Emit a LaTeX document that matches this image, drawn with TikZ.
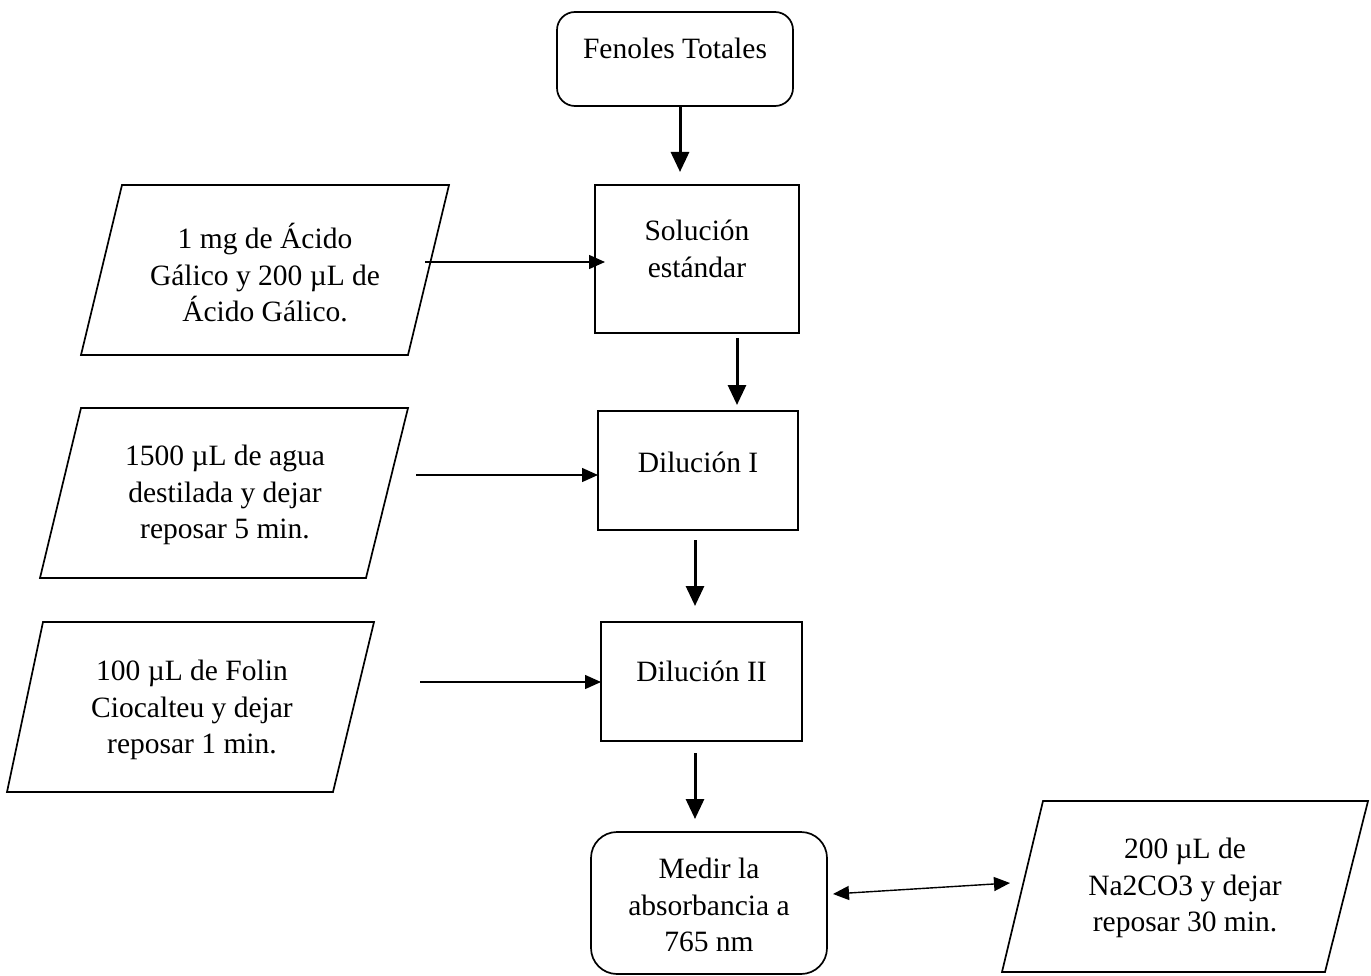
\documentclass[tikz,border=0pt]{standalone}
\usepackage{fontspec}
\setmainfont{Liberation Serif}
\usetikzlibrary{arrows.meta}
\begin{document}
\begin{tikzpicture}[x=1pt,y=-1pt,
  boxline/.style={draw, line width=1.7pt},
  procbox/.style={boxline, inner sep=0pt},
  termbox/.style={boxline, inner sep=0pt, rounded corners=20pt},
  txt/.style={align=center, inner sep=0pt, font=\fontsize{29.5}{36.5}\selectfont},
  thickarrow/.style={line width=3pt, -{Triangle[width=18pt,length=20pt]}},
  thinarrow/.style={line width=1.4pt, -{Triangle[width=14pt,length=16pt]}},
  dblarrow/.style={line width=1.4pt, {Triangle[width=14pt,length=16pt]}-{Triangle[width=14pt,length=16pt]}}
]
\useasboundingbox (0,0) rectangle (1371,976);

% terminal top
\node[termbox, minimum width=236pt, minimum height=94pt, rounded corners=18pt] (fen) at (675,59) {};
\node[txt] (fent) at (675,48) {Fenoles Totales};

% process boxes
\node[procbox, minimum width=204pt, minimum height=148pt] (sol) at (697,259) {};
\node[txt] (solt) at (697,249) {Soluci\'on\\est\'andar};

\node[procbox, minimum width=200pt, minimum height=119pt] (dil1) at (698,470.5) {};
\node[txt] (dil1t) at (698,462) {Diluci\'on I};

\node[procbox, minimum width=201pt, minimum height=119pt] (dil2) at (701.5,681.5) {};
\node[txt] (dil2t) at (701.5,671) {Diluci\'on II};

% bottom terminal
\node[termbox, minimum width=236pt, minimum height=142pt, rounded corners=26pt] (med) at (709,903) {};
\node[txt] (medt) at (709,905) {Medir la\\absorbancia a\\765 nm};

% parallelograms
\draw[boxline] (122,185) -- (449,185) -- (408,355) -- (81,355) -- cycle;
\node[txt] (p1) at (265,273) {1 mg de \'Acido\\G\'alico y 200 µL de\\\'Acido G\'alico.};
\coordinate (p1e) at (425,262);

\draw[boxline] (81,408) -- (408,408) -- (366,578) -- (40,578) -- cycle;
\node[txt] (p2) at (225,495) {1500 µL de agua\\destilada y dejar\\reposar 5 min.};
\coordinate (p2e) at (416,475);

\draw[boxline] (43,622) -- (374,622) -- (333,792) -- (7,792) -- cycle;
\node[txt] (p3) at (192,710) {100 µL de Folin\\Ciocalteu y dejar\\reposar 1 min.};
\coordinate (p3e) at (420,682);

\draw[boxline] (1043,801) -- (1368,801) -- (1325,972) -- (1002,972) -- cycle;
\node[txt] (p4) at (1185,888) {200 µL de\\Na2CO3 y dejar\\reposar 30 min.};
\coordinate (p4w) at (1010,883);
\coordinate (medE) at (833,894);

% vertical arrows
\coordinate (a1s) at (680,106);
\coordinate (a1e) at (680,172);
\draw[thickarrow] (a1s) -- (a1e);
\coordinate (a2s) at (737,338);
\coordinate (a2e) at (737,405);
\draw[thickarrow] (a2s) -- (a2e);
\coordinate (a3s) at (695,540);
\coordinate (a3e) at (695,606);
\draw[thickarrow] (a3s) -- (a3e);
\coordinate (a4s) at (695,753);
\coordinate (a4e) at (695,819);
\draw[thickarrow] (a4s) -- (a4e);

% horizontal arrows
\coordinate (s1) at (605,262);
\draw[thinarrow] (p1e) -- (s1);
\coordinate (s2) at (598,475);
\draw[thinarrow] (p2e) -- (s2);
\coordinate (s3) at (601,682);
\draw[thinarrow] (p3e) -- (s3);
\draw[dblarrow] (medE) -- (p4w);
\end{tikzpicture}
\end{document}
